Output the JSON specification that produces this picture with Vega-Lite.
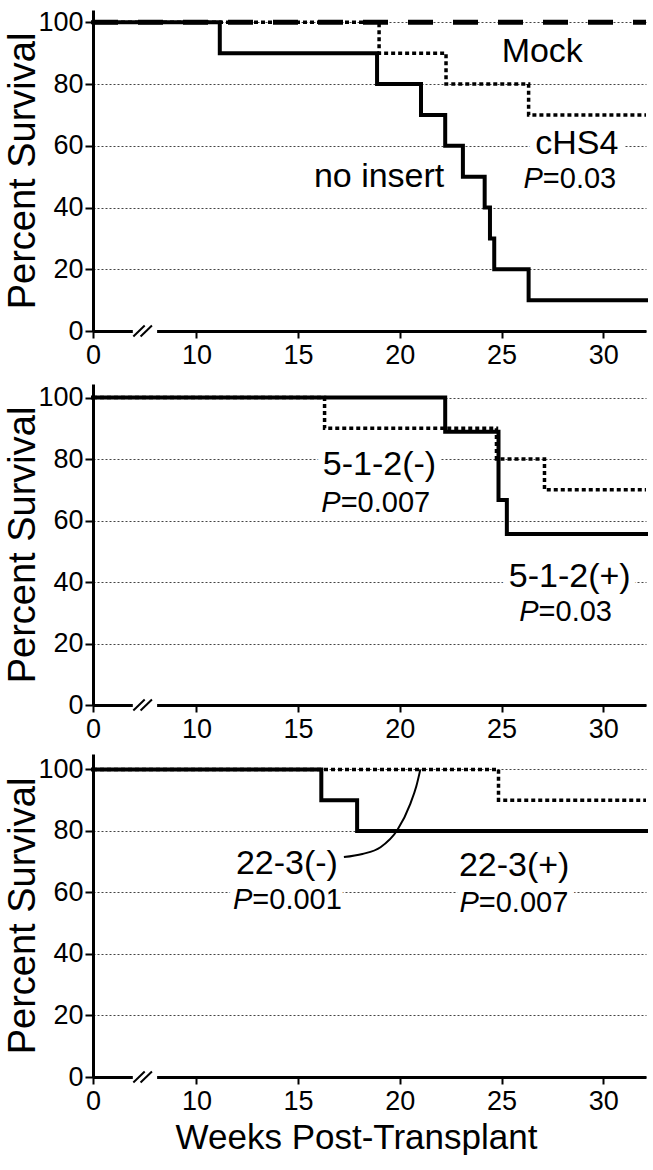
{
  "$schema": "https://vega.github.io/schema/vega-lite/v6.json",
  "background": "white",
  "padding": {"left": 4, "top": 8, "right": 0, "bottom": 0},
  "datasets": {
    "c1": [
      {"series": "no insert", "week": 0, "pct": 100},
      {"series": "no insert", "week": 11.15, "pct": 90},
      {"series": "no insert", "week": 18.88, "pct": 80},
      {"series": "no insert", "week": 21.04, "pct": 70},
      {"series": "no insert", "week": 22.23, "pct": 60},
      {"series": "no insert", "week": 23.1, "pct": 50},
      {"series": "no insert", "week": 24.17, "pct": 40},
      {"series": "no insert", "week": 24.43, "pct": 30},
      {"series": "no insert", "week": 24.64, "pct": 20},
      {"series": "no insert", "week": 26.33, "pct": 10},
      {"series": "no insert", "week": 32.1, "pct": 10},
      {"series": "cHS4", "week": 0, "pct": 100},
      {"series": "cHS4", "week": 18.98, "pct": 90},
      {"series": "cHS4", "week": 22.27, "pct": 80},
      {"series": "cHS4", "week": 26.33, "pct": 70},
      {"series": "cHS4", "week": 32.1, "pct": 70},
      {"series": "Mock", "week": 0, "pct": 100},
      {"series": "Mock", "week": 32.1, "pct": 100}
    ],
    "c2": [
      {"series": "5-1-2(+)", "week": 0, "pct": 100},
      {"series": "5-1-2(+)", "week": 22.23, "pct": 88.9},
      {"series": "5-1-2(+)", "week": 24.85, "pct": 66.7},
      {"series": "5-1-2(+)", "week": 25.26, "pct": 55.6},
      {"series": "5-1-2(+)", "week": 32.1, "pct": 55.6},
      {"series": "5-1-2(-)", "week": 0, "pct": 100},
      {"series": "5-1-2(-)", "week": 16.3, "pct": 90},
      {"series": "5-1-2(-)", "week": 24.75, "pct": 80},
      {"series": "5-1-2(-)", "week": 27.11, "pct": 70},
      {"series": "5-1-2(-)", "week": 32.1, "pct": 70}
    ],
    "c3": [
      {"series": "22-3(+)", "week": 0, "pct": 100},
      {"series": "22-3(+)", "week": 16.14, "pct": 90},
      {"series": "22-3(+)", "week": 17.9, "pct": 80},
      {"series": "22-3(+)", "week": 32.1, "pct": 80},
      {"series": "22-3(-)", "week": 0, "pct": 100},
      {"series": "22-3(-)", "week": 24.85, "pct": 90},
      {"series": "22-3(-)", "week": 32.1, "pct": 90}
    ],
    "arc3": [
      {"week": 17.25, "pct": 71.5},
      {"week": 18.16, "pct": 72.5},
      {"week": 19.05, "pct": 74.7},
      {"week": 19.87, "pct": 80.2},
      {"week": 20.52, "pct": 88.9},
      {"week": 20.81, "pct": 94.5},
      {"week": 21.01, "pct": 100}
    ],
    "t1": [
      {"label": "Mock", "week": 27, "pct": 87},
      {"label": "cHS4", "week": 28.7, "pct": 57.5},
      {"label": "no insert", "week": 18.98, "pct": 46.5}
    ],
    "p1": [
      {"pval": "=0.03", "week": 27.03, "pct": 46.3}
    ],
    "t2": [
      {"label": "5-1-2(-)", "week": 19.0, "pct": 74.9},
      {"label": "5-1-2(+)", "week": 28.35, "pct": 38.5}
    ],
    "p2": [
      {"pval": "=0.007", "week": 17.09, "pct": 62.9},
      {"pval": "=0.03", "week": 26.82, "pct": 27.2}
    ],
    "t3": [
      {"label": "22-3(-)", "week": 14.45, "pct": 65.9},
      {"label": "22-3(+)", "week": 25.62, "pct": 65.3}
    ],
    "p3": [
      {"pval": "=0.001", "week": 12.75, "pct": 54.7},
      {"pval": "=0.007", "week": 23.88, "pct": 53.8}
    ],
    "gap": [
      {"week": 3.85, "week2": 6.2, "pct": -0.9, "pct2": 0.9}
    ],
    "slash": [
      {"week": 3.9, "pct": -1.8, "week2": 5.0, "pct2": 1.8},
      {"week": 4.6, "pct": -1.8, "week2": 5.7, "pct2": 1.8}
    ]
  },
  "vconcat": [
    {
      "width": 553,
      "height": 321,
      "layer": [
        {
          "data": {"name": "t1"},
          "mark": {"type": "text", "fontSize": 34, "align": "center", "baseline": "alphabetic", "fill": "white", "stroke": "white", "strokeWidth": 14, "strokeJoin": "round"},
          "encoding": {
            "x": {"field": "week", "type": "quantitative", "scale": {"domain": [0, 10, 32.1], "range": [0, 103.4, 553], "nice": false, "zero": false}, "axis": {"values": [0, 10, 15, 20, 25, 30], "title": null}},
            "y": {"field": "pct", "type": "quantitative", "scale": {"domain": [0, 104], "nice": false, "zero": false}, "axis": {"values": [0, 20, 40, 60, 80, 100], "title": "Percent Survival"}},
            "text": {"field": "label"}
          }
        },
        {
          "data": {"name": "p1"},
          "mark": {"type": "text", "fontSize": 29, "align": "left", "baseline": "alphabetic", "fill": "white", "stroke": "white", "strokeWidth": 14, "strokeJoin": "round"},
          "encoding": {"x": {"field": "week", "type": "quantitative"}, "y": {"field": "pct", "type": "quantitative"}, "text": {"field": "pval"}}
        },
        {
          "data": {"name": "p1"},
          "mark": {"type": "text", "text": "P", "fontStyle": "italic", "fontSize": 29, "align": "right", "baseline": "alphabetic", "fill": "white", "stroke": "white", "strokeWidth": 14, "strokeJoin": "round"},
          "encoding": {"x": {"field": "week", "type": "quantitative"}, "y": {"field": "pct", "type": "quantitative"}}
        },
        {
          "data": {"name": "c1"},
          "transform": [{"filter": "datum.series == 'no insert'"}],
          "mark": {"type": "line", "interpolate": "step-after", "color": "black", "strokeWidth": 4, "strokeJoin": "miter", "strokeCap": "square"},
          "encoding": {"x": {"field": "week", "type": "quantitative"}, "y": {"field": "pct", "type": "quantitative"}}
        },
        {
          "data": {"name": "c1"},
          "transform": [{"filter": "datum.series == 'cHS4'"}],
          "mark": {"type": "line", "interpolate": "step-after", "color": "black", "strokeWidth": 3.5, "strokeDash": [4, 3], "strokeCap": "butt"},
          "encoding": {"x": {"field": "week", "type": "quantitative"}, "y": {"field": "pct", "type": "quantitative"}}
        },
        {
          "data": {"name": "c1"},
          "transform": [{"filter": "datum.series == 'Mock'"}],
          "mark": {"type": "line", "color": "black", "strokeWidth": 5, "strokeDash": [25, 20], "strokeCap": "butt"},
          "encoding": {"x": {"field": "week", "type": "quantitative"}, "y": {"field": "pct", "type": "quantitative"}}
        },
        {
          "data": {"name": "gap"},
          "mark": {"type": "rect", "fill": "white"},
          "encoding": {"x": {"field": "week", "type": "quantitative"}, "x2": {"field": "week2"}, "y": {"field": "pct", "type": "quantitative"}, "y2": {"field": "pct2"}}
        },
        {
          "data": {"name": "slash"},
          "mark": {"type": "rule", "color": "black", "strokeWidth": 2},
          "encoding": {"x": {"field": "week", "type": "quantitative"}, "x2": {"field": "week2"}, "y": {"field": "pct", "type": "quantitative"}, "y2": {"field": "pct2"}}
        },
        {
          "mark": {"type": "rule", "color": "black", "strokeWidth": 3},
          "encoding": {"y": {"datum": 104, "type": "quantitative"}}
        },
        {
          "mark": {"type": "rule", "color": "black", "strokeWidth": 3},
          "encoding": {"x": {"datum": 32.1, "type": "quantitative"}}
        },
        {
          "data": {"name": "t1"},
          "mark": {"type": "text", "fontSize": 34, "align": "center", "baseline": "alphabetic", "color": "black"},
          "encoding": {"x": {"field": "week", "type": "quantitative"}, "y": {"field": "pct", "type": "quantitative"}, "text": {"field": "label"}}
        },
        {
          "data": {"name": "p1"},
          "mark": {"type": "text", "fontSize": 29, "align": "left", "baseline": "alphabetic", "color": "black"},
          "encoding": {"x": {"field": "week", "type": "quantitative"}, "y": {"field": "pct", "type": "quantitative"}, "text": {"field": "pval"}}
        },
        {
          "data": {"name": "p1"},
          "mark": {"type": "text", "text": "P", "fontStyle": "italic", "fontSize": 29, "align": "right", "baseline": "alphabetic", "color": "black"},
          "encoding": {"x": {"field": "week", "type": "quantitative"}, "y": {"field": "pct", "type": "quantitative"}}
        }
      ]
    },
    {
      "vconcat": [
        {
          "width": 553,
          "height": 321,
          "layer": [
            {
              "data": {"name": "t2"},
              "mark": {"type": "text", "fontSize": 34, "align": "center", "baseline": "alphabetic", "fill": "white", "stroke": "white", "strokeWidth": 14, "strokeJoin": "round"},
              "encoding": {
                "x": {"field": "week", "type": "quantitative", "scale": {"domain": [0, 10, 32.1], "range": [0, 103.4, 553], "nice": false, "zero": false}, "axis": {"values": [0, 10, 15, 20, 25, 30], "title": null}},
                "y": {"field": "pct", "type": "quantitative", "scale": {"domain": [0, 104.4], "nice": false, "zero": false}, "axis": {"values": [0, 20, 40, 60, 80, 100], "title": "Percent Survival"}},
                "text": {"field": "label"}
              }
            },
            {
              "data": {"name": "p2"},
              "mark": {"type": "text", "fontSize": 29, "align": "left", "baseline": "alphabetic", "fill": "white", "stroke": "white", "strokeWidth": 14, "strokeJoin": "round"},
              "encoding": {"x": {"field": "week", "type": "quantitative"}, "y": {"field": "pct", "type": "quantitative"}, "text": {"field": "pval"}}
            },
            {
              "data": {"name": "p2"},
              "mark": {"type": "text", "text": "P", "fontStyle": "italic", "fontSize": 29, "align": "right", "baseline": "alphabetic", "fill": "white", "stroke": "white", "strokeWidth": 14, "strokeJoin": "round"},
              "encoding": {"x": {"field": "week", "type": "quantitative"}, "y": {"field": "pct", "type": "quantitative"}}
            },
            {
              "data": {"name": "c2"},
              "transform": [{"filter": "datum.series == '5-1-2(+)'"}],
              "mark": {"type": "line", "interpolate": "step-after", "color": "black", "strokeWidth": 4, "strokeJoin": "miter", "strokeCap": "square"},
              "encoding": {"x": {"field": "week", "type": "quantitative"}, "y": {"field": "pct", "type": "quantitative"}}
            },
            {
              "data": {"name": "c2"},
              "transform": [{"filter": "datum.series == '5-1-2(-)'"}],
              "mark": {"type": "line", "interpolate": "step-after", "color": "black", "strokeWidth": 3.5, "strokeDash": [4, 3], "strokeCap": "butt"},
              "encoding": {"x": {"field": "week", "type": "quantitative"}, "y": {"field": "pct", "type": "quantitative"}}
            },
            {
              "data": {"name": "gap"},
              "mark": {"type": "rect", "fill": "white"},
              "encoding": {"x": {"field": "week", "type": "quantitative"}, "x2": {"field": "week2"}, "y": {"field": "pct", "type": "quantitative"}, "y2": {"field": "pct2"}}
            },
            {
              "data": {"name": "slash"},
              "mark": {"type": "rule", "color": "black", "strokeWidth": 2},
              "encoding": {"x": {"field": "week", "type": "quantitative"}, "x2": {"field": "week2"}, "y": {"field": "pct", "type": "quantitative"}, "y2": {"field": "pct2"}}
            },
            {
              "mark": {"type": "rule", "color": "black", "strokeWidth": 3},
              "encoding": {"y": {"datum": 104.4, "type": "quantitative"}}
            },
            {
              "mark": {"type": "rule", "color": "black", "strokeWidth": 3},
              "encoding": {"x": {"datum": 32.1, "type": "quantitative"}}
            },
            {
              "data": {"name": "t2"},
              "mark": {"type": "text", "fontSize": 34, "align": "center", "baseline": "alphabetic", "color": "black"},
              "encoding": {"x": {"field": "week", "type": "quantitative"}, "y": {"field": "pct", "type": "quantitative"}, "text": {"field": "label"}}
            },
            {
              "data": {"name": "p2"},
              "mark": {"type": "text", "fontSize": 29, "align": "left", "baseline": "alphabetic", "color": "black"},
              "encoding": {"x": {"field": "week", "type": "quantitative"}, "y": {"field": "pct", "type": "quantitative"}, "text": {"field": "pval"}}
            },
            {
              "data": {"name": "p2"},
              "mark": {"type": "text", "text": "P", "fontStyle": "italic", "fontSize": 29, "align": "right", "baseline": "alphabetic", "color": "black"},
              "encoding": {"x": {"field": "week", "type": "quantitative"}, "y": {"field": "pct", "type": "quantitative"}}
            }
          ]
        },
        {
          "width": 553,
          "height": 323,
          "layer": [
            {
              "data": {"name": "t3"},
              "mark": {"type": "text", "fontSize": 34, "align": "center", "baseline": "alphabetic", "fill": "white", "stroke": "white", "strokeWidth": 14, "strokeJoin": "round"},
              "encoding": {
                "x": {"field": "week", "type": "quantitative", "scale": {"domain": [0, 10, 32.1], "range": [0, 103.4, 553], "nice": false, "zero": false}, "axis": {"values": [0, 10, 15, 20, 25, 30], "title": "Weeks Post-Transplant", "titleX": 263, "titleAlign": "center"}},
                "y": {"field": "pct", "type": "quantitative", "scale": {"domain": [0, 105], "nice": false, "zero": false}, "axis": {"values": [0, 20, 40, 60, 80, 100], "title": "Percent Survival"}},
                "text": {"field": "label"}
              }
            },
            {
              "data": {"name": "p3"},
              "mark": {"type": "text", "fontSize": 29, "align": "left", "baseline": "alphabetic", "fill": "white", "stroke": "white", "strokeWidth": 14, "strokeJoin": "round"},
              "encoding": {"x": {"field": "week", "type": "quantitative"}, "y": {"field": "pct", "type": "quantitative"}, "text": {"field": "pval"}}
            },
            {
              "data": {"name": "p3"},
              "mark": {"type": "text", "text": "P", "fontStyle": "italic", "fontSize": 29, "align": "right", "baseline": "alphabetic", "fill": "white", "stroke": "white", "strokeWidth": 14, "strokeJoin": "round"},
              "encoding": {"x": {"field": "week", "type": "quantitative"}, "y": {"field": "pct", "type": "quantitative"}}
            },
            {
              "data": {"name": "c3"},
              "transform": [{"filter": "datum.series == '22-3(+)'"}],
              "mark": {"type": "line", "interpolate": "step-after", "color": "black", "strokeWidth": 4, "strokeJoin": "miter", "strokeCap": "square"},
              "encoding": {"x": {"field": "week", "type": "quantitative"}, "y": {"field": "pct", "type": "quantitative"}}
            },
            {
              "data": {"name": "c3"},
              "transform": [{"filter": "datum.series == '22-3(-)'"}],
              "mark": {"type": "line", "interpolate": "step-after", "color": "black", "strokeWidth": 3.5, "strokeDash": [4, 3], "strokeCap": "butt"},
              "encoding": {"x": {"field": "week", "type": "quantitative"}, "y": {"field": "pct", "type": "quantitative"}}
            },
            {
              "data": {"name": "arc3"},
              "mark": {"type": "line", "interpolate": "monotone", "color": "black", "strokeWidth": 2},
              "encoding": {"x": {"field": "week", "type": "quantitative"}, "y": {"field": "pct", "type": "quantitative"}}
            },
            {
              "data": {"name": "gap"},
              "mark": {"type": "rect", "fill": "white"},
              "encoding": {"x": {"field": "week", "type": "quantitative"}, "x2": {"field": "week2"}, "y": {"field": "pct", "type": "quantitative"}, "y2": {"field": "pct2"}}
            },
            {
              "data": {"name": "slash"},
              "mark": {"type": "rule", "color": "black", "strokeWidth": 2},
              "encoding": {"x": {"field": "week", "type": "quantitative"}, "x2": {"field": "week2"}, "y": {"field": "pct", "type": "quantitative"}, "y2": {"field": "pct2"}}
            },
            {
              "mark": {"type": "rule", "color": "black", "strokeWidth": 3},
              "encoding": {"y": {"datum": 105, "type": "quantitative"}}
            },
            {
              "mark": {"type": "rule", "color": "black", "strokeWidth": 3},
              "encoding": {"x": {"datum": 32.1, "type": "quantitative"}}
            },
            {
              "data": {"name": "t3"},
              "mark": {"type": "text", "fontSize": 34, "align": "center", "baseline": "alphabetic", "color": "black"},
              "encoding": {"x": {"field": "week", "type": "quantitative"}, "y": {"field": "pct", "type": "quantitative"}, "text": {"field": "label"}}
            },
            {
              "data": {"name": "p3"},
              "mark": {"type": "text", "fontSize": 29, "align": "left", "baseline": "alphabetic", "color": "black"},
              "encoding": {"x": {"field": "week", "type": "quantitative"}, "y": {"field": "pct", "type": "quantitative"}, "text": {"field": "pval"}}
            },
            {
              "data": {"name": "p3"},
              "mark": {"type": "text", "text": "P", "fontStyle": "italic", "fontSize": 29, "align": "right", "baseline": "alphabetic", "color": "black"},
              "encoding": {"x": {"field": "week", "type": "quantitative"}, "y": {"field": "pct", "type": "quantitative"}}
            }
          ]
        }
      ],
      "spacing": 49,
      "bounds": "flush"
    }
  ],
  "spacing": 53,
  "bounds": "flush",
  "config": {
    "font": "Liberation Sans",
    "view": {"stroke": null},
    "text": {"font": "Liberation Sans"},
    "axis": {
      "labelFont": "Liberation Sans",
      "titleFont": "Liberation Sans",
      "labelColor": "black",
      "titleColor": "black",
      "domainColor": "black",
      "domainWidth": 3,
      "tickColor": "black",
      "tickWidth": 2,
      "titleFontWeight": "normal",
      "labelFontSize": 27,
      "grid": false,
      "labelFlush": false,
      "labelOverlap": false
    },
    "axisY": {
      "grid": true,
      "gridDash": [2, 2],
      "gridColor": "#444444",
      "gridWidth": 1,
      "tickSize": 8,
      "labelPadding": 2,
      "titleFontSize": 38,
      "titlePadding": -5
    },
    "axisX": {
      "tickSize": 7,
      "labelPadding": 4,
      "titleFontSize": 35,
      "titlePadding": 6
    }
  }
}
